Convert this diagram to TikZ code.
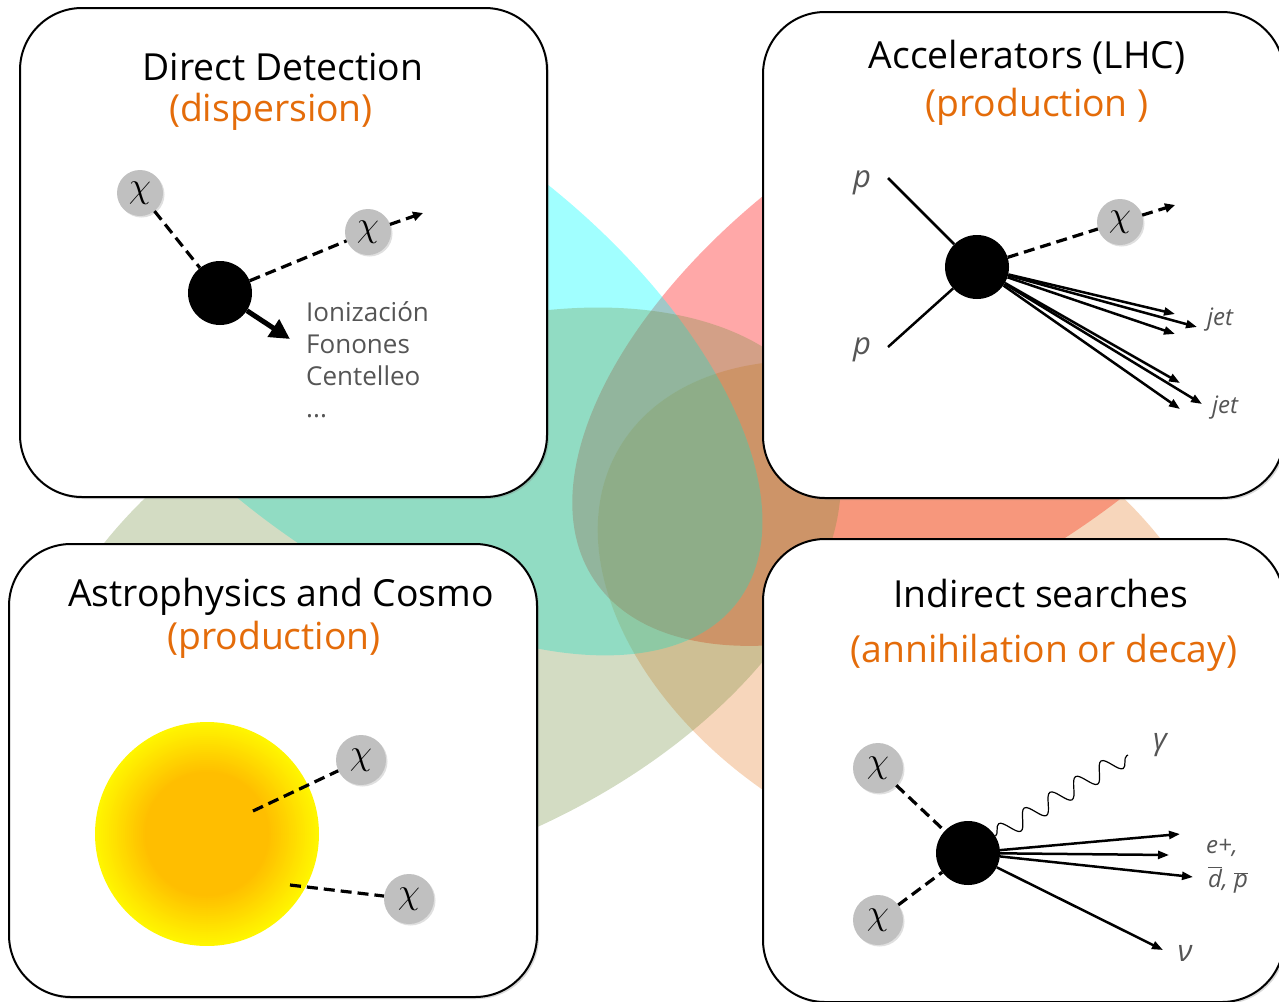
\documentclass[tikz,border=0pt]{standalone}
\usepackage{graphicx}
\usepackage{fontspec}
\setmainfont{Open Sans}
\usetikzlibrary{arrows.meta,shadows,decorations.pathmorphing}

\definecolor{vennRed}{RGB}{255,0,0}
\definecolor{vennOrange}{RGB}{228,108,10}
\definecolor{vennCyan}{RGB}{0,255,255}
\definecolor{vennSage}{RGB}{113,142,61}
\definecolor{subOrange}{RGB}{228,108,10}
\definecolor{txtGrey}{RGB}{85,85,85}
\definecolor{chiGrey}{RGB}{192,192,192}
\definecolor{sunCore}{RGB}{255,190,0}
\definecolor{sunRim}{RGB}{255,246,0}
\newcommand{\bigchi}{\scalebox{1.45}{$\chi$}}

\tikzset{
  panel/.style={draw=black, line width=2pt, fill=white, rounded corners=62pt,
    drop shadow={shadow xshift=2pt, shadow yshift=-2pt, opacity=.3}},
  title/.style={anchor=base, font=\fontsize{37.3}{44}\selectfont},
  subtitle/.style={title, text=subOrange},
  chi/.style={circle, fill=chiGrey, minimum size=46pt, inner sep=0pt, font=\fontsize{24.88}{25}\selectfont,
    drop shadow={shadow xshift=1.5pt, shadow yshift=-1.5pt, opacity=.25}},
  blob/.style={circle, fill=black, minimum size=64pt, inner sep=0pt},
  dashln/.style={line width=3.2pt, dash pattern=on 11pt off 6pt},
  beam/.style={line width=2.5pt},
  jetarrow/.style={line width=2.5pt, -{Triangle[length=11pt,width=8pt]}},
  photon/.style={line width=1.2pt, decorate, decoration={snake, amplitude=9pt, segment length=30pt}},
  plbl/.style={text=txtGrey, font=\fontsize{31}{31}\selectfont\itshape},
  jlbl/.style={text=txtGrey, font=\fontsize{24}{26}\selectfont\itshape, inner sep=1pt},
  glbl/.style={jlbl, font=\fontsize{30}{30}\selectfont\itshape},
}

\begin{document}
\begin{tikzpicture}[x=1pt,y=1pt]
\useasboundingbox (0,0) rectangle (1279,-1001);
\clip (0,0) rectangle (1279,-1001);

% overlapping fields
\fill[vennRed, fill opacity=.34, rotate around={34:(951,-340)}] (951,-340) ellipse (430 and 228);
\fill[vennOrange, fill opacity=.28, rotate around={-30:(913,-619)}] (913,-619) ellipse (340 and 225);
\fill[vennCyan, fill opacity=.37, rotate around={-37:(396,-344)}] (396,-344) ellipse (428 and 219);
\fill[vennSage, fill opacity=.31, rotate around={25:(437,-598)}] (437,-598) ellipse (430 and 250);

% panels
\node (dd) at (283.5,-252.5) [panel, minimum width=527pt, minimum height=489pt] {};
\node (lhc) at (1023.5,-255) [panel, minimum width=521pt, minimum height=486pt] {};
\node (ac) at (273,-770.5) [panel, minimum width=528pt, minimum height=453pt] {};
\node (is) at (1023.5,-770.5) [panel, minimum width=521pt, minimum height=463pt] {};

\node (ddT) at (283,-80) [title] {Direct Detection};
\node (ddS) at (271,-121) [subtitle] {(dispersion)};
\node (lhcT) at (1027,-68) [title] {Accelerators (LHC)};
\node (lhcS) at (1037,-116) [subtitle] {(production )};
\node (acT) at (281,-606) [title] {Astrophysics and Cosmo};
\node (acS) at (274,-649) [subtitle] {(production)};
\node (isT) at (1041,-607) [title] {Indirect searches};
\node (isS) at (1044,-662) [subtitle] {(annihilation or decay)};

% direct detection
\node (dd1) at (140,-193) [chi] {\bigchi};
\node (dd2) at (368,-232) [chi] {\bigchi};
\node (ddN) at (220,-293) [blob] {};
\coordinate (ddOut) at (423,-213);
\coordinate (ddRec) at (290,-339);
\draw[dashln] (dd1) -- (ddN);
\draw[dashln] (ddN) -- (dd2);
\draw[dashln, -{Triangle[length=10pt,width=9pt]}] (dd2) -- (ddOut);
\draw[line width=5pt, -{Triangle[length=20pt,width=20pt]}] (ddN) -- (ddRec);
\node (ddList) at (306,-301) [anchor=north west, align=left, inner sep=0pt, text=txtGrey,
  font=\fontsize{26}{32}\selectfont] {Ionización\\Fonones\\Centelleo\\...};

% accelerators
\node (lhcP1) at (862,-183) [plbl] {p};
\node (lhcP2) at (862,-350) [plbl] {p};
\coordinate (lhcIn1) at (888,-178);
\coordinate (lhcIn2) at (888,-347);
\node (lhcN) at (977,-267) [blob] {};
\draw[beam] (lhcIn1) -- (lhcN);
\draw[beam] (lhcIn2) -- (lhcN);
\node (lhc1) at (1120,-222) [chi] {\bigchi};
\coordinate (lhcOut) at (1175,-205);
\draw[dashln] (lhcN) -- (lhc1);
\draw[dashln, -{Triangle[length=10pt,width=9pt]}] (lhc1) -- (lhcOut);
\foreach \jx/\jy [count=\k] in {1175/314, 1197/327, 1175/334, 1180/383, 1202/404, 1180/409}
  \coordinate (jet\k) at (\jx,-\jy);
\foreach \k in {1,...,6}
  \draw[jetarrow] (lhcN) -- (jet\k);
\node (jetL1) at (1220,-320) [jlbl] {jet};
\node (jetL2) at (1225,-408) [jlbl] {jet};

% astrophysics
\begin{scope}
  \clip (80,-700) rectangle (340,-945);
  \foreach \i [evaluate=\i as \pct using int(4*\i), evaluate=\i as \rad using 112-2*\i] in {0,...,25}
    \fill[sunCore!\pct!sunRim] (207,-834) circle (\rad);
\end{scope}
\coordinate (acIn1) at (253,-811);
\coordinate (acIn2) at (290,-885);
\node (ac1) at (361,-760) [chi, minimum size=50pt] {\bigchi};
\node (ac2) at (409,-899) [chi, minimum size=50pt] {\bigchi};
\draw[dashln] (acIn1) -- (ac1);
\draw[dashln] (acIn2) -- (ac2);

% indirect searches
\node (is1) at (878,-768) [chi, minimum size=50pt] {\bigchi};
\node (is2) at (878,-920) [chi, minimum size=50pt] {\bigchi};
\node (isN) at (968,-853) [blob] {};
\draw[dashln] (is1) -- (isN);
\draw[dashln] (is2) -- (isN);
\coordinate (isGam) at (1128,-755);
\draw[photon] (isN) -- (isGam);
\foreach \ox/\oy [count=\k] in {1180/834, 1169/855, 1193/877, 1163/950}
  \coordinate (isOut\k) at (\ox,-\oy);
\foreach \k in {1,...,4}
  \draw[jetarrow] (isN) -- (isOut\k);
\node (isGamL) at (1160,-745) [glbl] {γ};
\node (isEp) at (1222,-848) [jlbl] {e+,};
\node (isDp) at (1228,-880) [jlbl] {$\overline{\mbox{\itshape d}}$, $\overline{\mbox{\itshape p}}$};
\node (isNu) at (1185,-953) [glbl] {ν};
\end{tikzpicture}
\end{document}
